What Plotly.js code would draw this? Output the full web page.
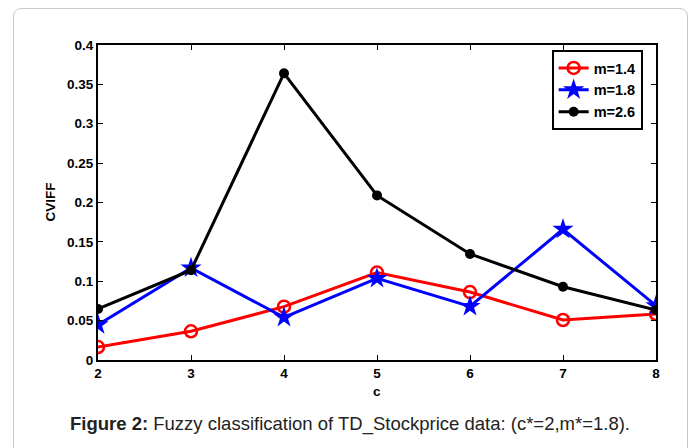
<!DOCTYPE html>
<html>
<head>
<meta charset="utf-8">
<script src="https://cdn.plot.ly/plotly-3.0.1.min.js"></script>
<style>
  html, body { margin:0; padding:0; background:#fff; }
  #frame { position:absolute; left:13px; top:8px; width:675px; height:460px; border:1px solid #c8c8c8; border-radius:8px; box-sizing:border-box; }
  #chart { position:absolute; left:0; top:0; width:695px; height:448px; }
</style>
</head>
<body>
<div id="frame"></div>
<div id="chart"></div>
<script>
const cValues = [2, 3, 4, 5, 6, 7, 8];
const m14 = [0.0165, 0.0365, 0.0677, 0.111, 0.0863, 0.0508, 0.0584];
const m18 = [0.0448, 0.117, 0.0542, 0.1037, 0.068, 0.166, 0.069];
const m26 = [0.0648, 0.114, 0.364, 0.209, 0.1346, 0.093, 0.0635];
const seriesNames = ['m=1.4', 'm=1.8', 'm=2.6'];
const yTickVals = [0, 0.05, 0.1, 0.15, 0.2, 0.25, 0.3, 0.35, 0.4];
const yTickText = ['0', '0.05', '0.1', '0.15', '0.2', '0.25', '0.3', '0.35', '0.4'];
const xTickVals = [2, 3, 4, 5, 6, 7, 8];
const xTickText = ['2', '3', '4', '5', '6', '7', '8'];

const bold = {family: 'Liberation Sans, Arial, sans-serif', size: 13.5, color: '#000', weight: 'bold'};

const traces = [
  {x: cValues, y: m14, name: seriesNames[0], mode: 'lines+markers', type: 'scatter',
   line: {color: '#ff0000', width: 3},
   marker: {symbol: 'circle-open', size: 12, color: '#ff0000', line: {width: 2.5, color: '#ff0000'}}},
  {x: cValues, y: m18, name: seriesNames[1], mode: 'lines+markers', type: 'scatter',
   line: {color: '#0000ff', width: 3},
   marker: {symbol: 'star', size: 16, color: '#0000ff', line: {width: 0}}},
  {x: cValues, y: m26, name: seriesNames[2], mode: 'lines+markers', type: 'scatter',
   line: {color: '#000000', width: 3},
   marker: {symbol: 'circle', size: 10, color: '#000000', line: {width: 0}}}
];

const layout = {
  width: 695, height: 448,
  paper_bgcolor: 'rgba(0,0,0,0)', plot_bgcolor: '#fff',
  margin: {l: 98, r: 39, t: 45, b: 88},
  showlegend: true,
  legend: {x: 0.813, y: 0.984, xanchor: 'left', yanchor: 'top',
           bgcolor: '#fff', bordercolor: '#000', borderwidth: 2,
           font: {family: 'Liberation Sans, Arial, sans-serif', size: 14.5, color: '#000', weight: 'bold'},
           tracegroupgap: 0, itemwidth: 30},
  xaxis: {range: [2, 8], tickvals: xTickVals, ticktext: xTickText,
          showgrid: false, zeroline: false, showline: true, linecolor: '#000', linewidth: 2,
          mirror: 'ticks', ticks: 'inside', ticklen: 5, tickcolor: '#000', tickwidth: 1,
          tickfont: bold, fixedrange: true},
  yaxis: {range: [0, 0.4], tickvals: yTickVals, ticktext: yTickText,
          showgrid: false, zeroline: false, showline: true, linecolor: '#000', linewidth: 2,
          mirror: 'ticks', ticks: 'inside', ticklen: 5, tickcolor: '#000', tickwidth: 1,
          tickfont: bold, fixedrange: true},
  annotations: [
    {text: 'c', xref: 'paper', yref: 'paper', x: 0.5, y: -0.1, xanchor: 'center', yanchor: 'middle',
     showarrow: false, font: bold},
    {text: 'CVIFF', xref: 'paper', yref: 'paper', x: -0.086, y: 0.5, textangle: -90,
     xanchor: 'center', yanchor: 'middle', showarrow: false, font: bold},
    {text: '<b>Figure 2:</b> Fuzzy classification of TD_Stockprice data: (c*=2,m*=1.8).',
     xref: 'paper', yref: 'paper', x: (350 - 98) / 558, y: (360 - 424) / 315,
     xanchor: 'center', yanchor: 'middle', showarrow: false,
     font: {family: 'Liberation Sans, Arial, sans-serif', size: 18.5, color: '#222'}}
  ]
};

Plotly.newPlot('chart', traces, layout, {staticPlot: true, displayModeBar: false});
</script>
</body>
</html>
